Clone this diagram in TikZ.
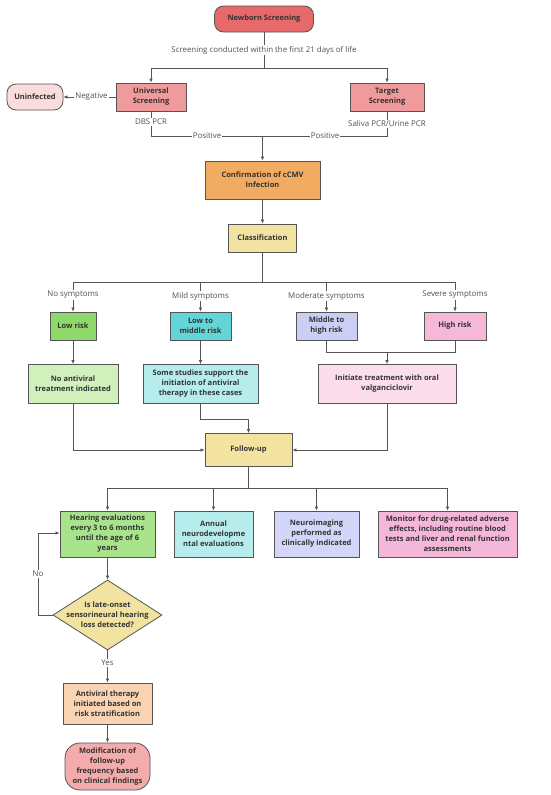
\documentclass[tikz,border=0pt]{standalone}
\usepackage{fontspec}
\setmainfont{Open Sans}
\usetikzlibrary{shapes.geometric,arrows.meta}
\definecolor{cNB}{HTML}{E8696B}
\definecolor{cScr}{HTML}{F09A9B}
\definecolor{cUn}{HTML}{FBDCDC}
\definecolor{cConf}{HTML}{F2AC62}
\definecolor{cYel}{HTML}{F3E3A1}
\definecolor{cLow}{HTML}{8FD86A}
\definecolor{cLM}{HTML}{64D5D6}
\definecolor{cMH}{HTML}{CCCFF5}
\definecolor{cHigh}{HTML}{F5B8D9}
\definecolor{cNA}{HTML}{D2F0BC}
\definecolor{cSS}{HTML}{B7ECEC}
\definecolor{cIT}{HTML}{FBDDEC}
\definecolor{cHE}{HTML}{A9E48C}
\definecolor{cNI}{HTML}{D3D6F8}
\definecolor{cMon}{HTML}{F4B7D9}
\definecolor{cAV}{HTML}{F9D3B2}
\definecolor{cMod}{HTML}{F4ABAB}
\definecolor{cLine}{HTML}{555555}
\definecolor{cTxt}{HTML}{333333}
\begin{document}
\begin{tikzpicture}[x=1pt,y=-1pt,
  every node/.style={font=\fontsize{7.5}{10}\selectfont, text=cTxt},
  box/.style={draw=cLine, line width=0.8pt, align=center, inner sep=1pt, font=\fontsize{7.5}{10}\selectfont\bfseries},
  rbox/.style={box, rounded corners=9pt},
  lbl/.style={fill=white, inner sep=1pt, text=cTxt!85, font=\fontsize{7.9}{10}\selectfont},
  conn/.style={draw=cLine, line width=0.7pt},
  arr/.style={conn, -{Latex[length=4pt,width=3.5pt]}}
]
\useasboundingbox (0,0) rectangle (550,795);
\fill[white] (0,0) rectangle (550,795);

% top
\node[rbox, fill=cNB, minimum width=99pt, minimum height=26pt] (ns) at (264,19) {Newborn Screening};
\node[box, fill=cScr, minimum width=70pt, minimum height=28pt] (us) at (151,97) {Universal\\Screening};
\node[box, fill=cScr, minimum width=74pt, minimum height=28pt] (ts) at (387,97) {Target\\Screening};
\node[rbox, fill=cUn, minimum width=56pt, minimum height=26pt] (un) at (35,97) {Uninfected};
\node[box, fill=cConf, minimum width=115pt, minimum height=38pt] (conf) at (262.5,180) {Confirmation of cCMV\\Infection};
\node[box, fill=cYel, minimum width=68pt, minimum height=28pt] (cls) at (262.5,238) {Classification};

\coordinate (s1) at (264,68);
\draw[conn] (ns.south) -- (s1);
\node[lbl] (l21) at (264,50) {Screening conducted within the first 21 days of life};
\draw[arr] (s1) -| (us.north);
\draw[arr] (s1) -| (ts.north);
\draw[arr] (us.west) -- (un.east) node[lbl, midway, xshift=2pt] (lneg) {Negative};
\coordinate (p1) at (151,136);
\coordinate (p2) at (387,136);
\coordinate (pm) at (262.5,136);
\draw[conn] (us.south) -- (p1) -- (p2) -- (ts.south);
\node[lbl] (ldbs) at (151,122) {DBS PCR};
\node[lbl] (lsal) at (387,124) {Saliva PCR/Urine PCR};
\node[lbl] (lpos1) at (207,136) {Positive};
\node[lbl] (lpos2) at (325,136) {Positive};
\draw[arr] (pm) -- (conf.north);
\draw[arr] (conf.south) -- (cls.north);

% risk
\node[box, fill=cLow, minimum width=46pt, minimum height=28pt] (r1) at (73,326) {Low risk};
\node[box, fill=cLM, minimum width=61pt, minimum height=28pt] (r2) at (200.5,326) {Low to\\middle risk};
\node[box, fill=cMH, minimum width=61pt, minimum height=28pt] (r3) at (326.5,326) {Middle to\\high risk};
\node[box, fill=cHigh, minimum width=62pt, minimum height=28pt] (r4) at (455,326) {High risk};
\coordinate (c0) at (262.5,282);
\coordinate (c1) at (73,282);
\coordinate (c4) at (455,282);
\draw[conn] (cls.south) -- (c0);
\draw[conn] (c1) -- (c4);
\draw[arr] (c1) -- (r1.north);
\draw[arr] (r2.north |- c0) -- (r2.north);
\draw[arr] (r3.north |- c0) -- (r3.north);
\draw[arr] (c4) -- (r4.north);
\node[lbl] (lno) at (73,295) {No symptoms};
\node[lbl] (lmild) at (200.5,296) {Mild symptoms};
\node[lbl] (lmod) at (326.5,296) {Moderate symptoms};
\node[lbl] (lsev) at (455,295) {Severe symptoms};

\node[box, fill=cNA, minimum width=90pt, minimum height=39pt] (na) at (73,384) {No antiviral\\treatment indicated};
\node[box, fill=cSS, minimum width=115pt, minimum height=39pt] (ss) at (200.5,384) {Some studies support the\\initiation of antiviral\\therapy in these cases};
\node[box, fill=cIT, minimum width=138pt, minimum height=39pt] (it) at (387,384) {Initiate treatment with oral\\valganciclovir};
\draw[arr] (r1.south) -- (na.north);
\draw[arr] (r2.south) -- (ss.north);
\coordinate (m3) at (326.5,352);
\coordinate (m4) at (455,352);
\coordinate (mm) at (387,352);
\draw[conn] (r3.south) -- (m3) -- (m4) -- (r4.south);
\draw[arr] (mm) -- (it.north);

\node[box, fill=cYel, minimum width=87pt, minimum height=33pt] (fu) at (248.5,450) {Follow-up};
\draw[arr] (na.south) |- (fu.west);
\coordinate (sk) at (200.5,419);
\draw[arr] (ss.south) -- (sk) -| (fu.north);
\draw[arr] (it.south) |- (fu.east);

% follow-up branches
\node[box, fill=cHE, minimum width=95pt, minimum height=46pt] (he) at (107.5,534) {Hearing evaluations\\every 3 to 6 months\\until the age of 6\\years};
\node[box, fill=cSS, minimum width=79pt, minimum height=46pt] (an) at (213.5,534) {Annual\\neurodevelopme\\ntal evaluations};
\node[box, fill=cNI, minimum width=85pt, minimum height=46pt] (ni) at (316.5,534) {Neuroimaging\\performed as\\clinically indicated};
\node[box, fill=cMon, minimum width=139pt, minimum height=46pt] (mo) at (447.5,534) {Monitor for drug-related adverse\\effects, including routine blood\\tests and liver and renal function\\assessments};
\coordinate (f0) at (248.5,488);
\coordinate (f1) at (107.5,488);
\coordinate (f4) at (447.5,488);
\draw[conn] (fu.south) -- (f0);
\draw[conn] (f1) -- (f4);
\draw[arr] (f1) -- (he.north);
\draw[arr] (an.north |- f0) -- (an.north);
\draw[arr] (ni.north |- f0) -- (ni.north);
\draw[arr] (f4) -- (mo.north);

\node[diamond, draw=cLine, line width=0.8pt, fill=cYel, minimum width=109pt, minimum height=70pt, inner sep=0pt] (dia) at (107.5,615) {};
\node[align=center, font=\fontsize{7.5}{10}\selectfont\bfseries, inner sep=0pt] (diat) at (dia.center) {Is late-onset\\sensorineural hearing\\loss detected?};
\draw[arr] (he.south) -- (dia.north);
\coordinate (nl1) at (38,615);
\coordinate (nl2) at (38,533);
\draw[arr] (dia.west) -- (nl1) -- (nl2) -- (he.west |- nl2);
\node[lbl] (lnoo) at (38,574) {No};

\node[box, fill=cAV, minimum width=89pt, minimum height=41pt] (av) at (107.5,703.5) {Antiviral therapy\\initiated based on\\risk stratification};
\draw[arr] (dia.south) -- (av.north);
\node[lbl] (lyes) at (107.5,663) {Yes};
\node[rbox, rounded corners=15pt, fill=cMod, minimum width=85pt, minimum height=47pt] (mod) at (107.5,766.5) {Modification of\\follow-up\\frequency based\\on clinical findings};
\draw[arr] (av.south) -- (mod.north);
\end{tikzpicture}
\end{document}
